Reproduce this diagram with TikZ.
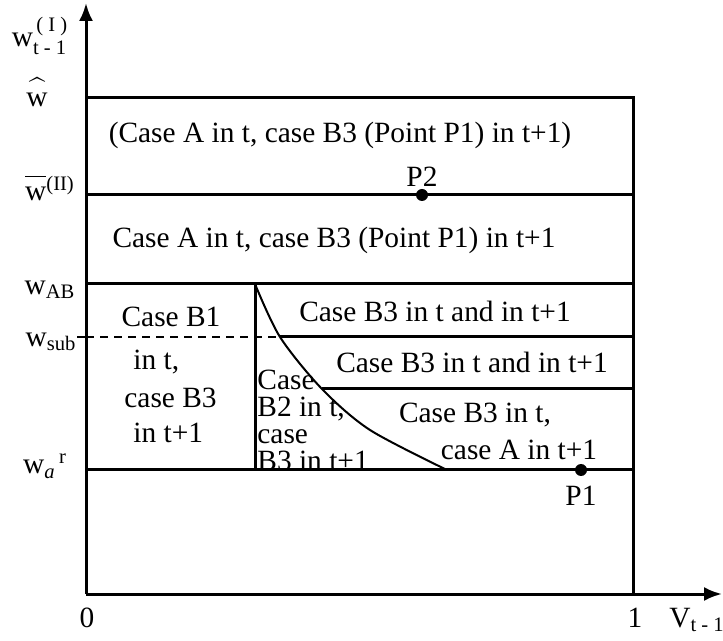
\documentclass[tikz,border=0pt]{standalone}
\usepackage{amsmath}
\usepackage{fontspec}
\setmainfont{Liberation Serif}
\usetikzlibrary{arrows.meta,positioning}

\begin{document}
\begin{tikzpicture}[x=0.5pt,y=-0.5pt,
		lbl/.style={font=\fontsize{14.7}{17.6}\selectfont,inner sep=0pt},
		bnd/.style={line width=1.5pt},
		ax/.style={line width=1.5pt,-{Latex[length=9pt,width=7pt]}},
		dot/.style={circle,fill,inner sep=0pt,minimum size=6pt}]
		\useasboundingbox (0,0) rectangle (723,641);
		
		\coordinate (O) at (86,594); \coordinate (ytip) at (86,3); \coordinate (xtip) at (722,594);
		\coordinate (R) at (633,594);
		\coordinate (hatL) at (86,98); \coordinate (hatR) at (633,98);
		\coordinate (barL) at (86,195); \coordinate (barR) at (633,195);
		\coordinate (abL) at (86,284); \coordinate (abR) at (633,284);
		\coordinate (subT) at (77,337); \coordinate (subL) at (86,337); \coordinate (subR) at (633,337);
		\coordinate (midR) at (633,389);
		\coordinate (arL) at (86,470); \coordinate (arR) at (633,470);
		\coordinate (vT) at (255,284); \coordinate (vB) at (255,470);
		\coordinate (c1) at (280,337); \coordinate (c2) at (322,389); \coordinate (c3) at (370,430); \coordinate (cE) at (447,470);
		
		% axes and regions
		\draw[ax] (O)--(ytip);
		\draw[ax] (O)--(xtip);
		\draw[bnd] (hatL)--(hatR)--(R);
		\draw[bnd] (barL)--(barR);
		\draw[bnd] (abL)--(abR);
		\draw[bnd] (arL)--(arR);
		\draw[bnd] (vT)--(vB);
		\draw[line width=1pt] (subT)--(subL);
		\draw[line width=1pt,dash pattern=on 4pt off 3pt] (subL)--(c1);
		\draw[bnd] (c1)--(subR);
		\draw[bnd] (c2)--(midR);
		\draw[line width=1pt] plot[smooth] coordinates {(vT) (c1) (c2) (c3) (cE)};
		
		\node (P2) [dot] at (422,195) {};
		\node (P1) [dot] at (581,470) {};
		\node[lbl,above=1pt of P2] {P2};
		\node[lbl,below=4.5pt of P1] {P1};
		
		% axis labels
		\node (wI) [lbl] at (40,36) {w$_{\text{t - 1}}^{\,\text{( I )}}$};
		\node (what) [lbl] at (37,92) {$\widehat{\text{w}\vphantom{l}}$};
		\node (wbar) [lbl] at (50,188) {$\overline{\text{w}\vphantom{l}}{}^{\text{(II)}}$};
		\node (wab) [lbl] at (50,290) {w$_{\text{AB}}$};
		\node (wsub) [lbl] at (51,342) {w$_{\text{sub}}$};
		\node (war) [lbl] at (45,466) {w$_{\textit{a}}{}^{\,\text{r}}$};
		\node (zero) [lbl] at (87,618) {0};
		\node (one) [lbl] at (635,618) {1};
		\node (vt) [lbl] at (697,620) {V$_{\text{t - 1}}$};
		
		% cases
		\node (caseA1) [lbl] at (340,135) {(Case A in t, case B3 (Point P1) in t+1)};
		\node (caseA2) [lbl] at (334,240) {Case A in t, case B3 (Point P1) in t+1};
		\node (caseB1) [lbl] at (171,317) {Case B1};
		\node[lbl,anchor=west] at (133,362) {in t,};
		\node[lbl,anchor=west] at (124,398) {case B3};
		\node[lbl,anchor=west] at (133,433) {in t+1};
		\node (caseB2) [lbl,align=left,anchor=north west,font=\fontsize{14.7}{13.5}\selectfont] at (257,370) {Case\\B2 in t,\\case\\B3 in t+1};
		\node (caseB3a) [lbl] at (435,311) {Case B3 in t and in t+1};
		\node (caseB3b) [lbl] at (472,362) {Case B3 in t and in t+1};
		\node (caseB3c) [lbl] at (475,415) {Case B3 in t,};
		\node (caseB3d) [lbl] at (519,450) {case A in t+1};
	\end{tikzpicture}
\end{document}
